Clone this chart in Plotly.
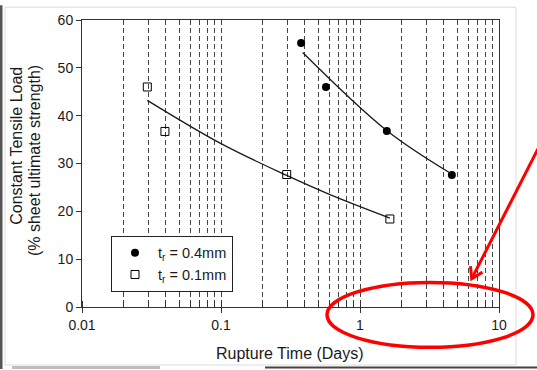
import plotly.graph_objects as go

# ---------------- data ----------------
thick_days = [0.377, 0.569, 1.56, 4.58]
thick_load = [55.2, 46.0, 36.8, 27.6]
thin_days = [0.0295, 0.0395, 0.297, 1.64]
thin_load = [46.0, 36.7, 27.7, 18.4]

thick_fit_days = [0.387, 1.556, 4.57]
thick_fit_load = [53.2, 36.9, 27.8]
thin_fit_days = [0.0295, 0.0993, 0.297, 0.608, 1.64]
thin_fit_load = [43.2, 34.2, 27.5, 23.5, 18.6]

x_tickvals = [0.01, 0.1, 1, 10]
x_ticktext = ["0.01", "0.1", "1", "10"]
y_tickvals = [0, 10, 20, 30, 40, 50, 60]

x_title = "Rupture Time (Days)"
y_title_lines = ["Constant Tensile Load", "(% sheet ultimate strength)"]
legend_names = ["t<sub>r</sub> = 0.4mm", "t<sub>r</sub> = 0.1mm"]

# ---------------- layout helpers ----------------
W, H = 537, 370
L, R, T, B = 82, 499, 15, 307


def px(x):
    return (x - L) / (R - L)


def py(y):
    return (B - y) / (B - T)


FONT = "Liberation Sans, Arial, sans-serif"
INK = "#1a1a1a"

fig = go.Figure()

fig.add_trace(go.Scatter(x=thick_fit_days, y=thick_fit_load, mode="lines",
                         line=dict(color=INK, width=1.3, shape="spline", smoothing=1.0),
                         showlegend=False, hoverinfo="skip"))
fig.add_trace(go.Scatter(x=thin_fit_days, y=thin_fit_load, mode="lines",
                         line=dict(color=INK, width=1.3, shape="spline", smoothing=1.0),
                         showlegend=False, hoverinfo="skip"))
fig.add_trace(go.Scatter(x=thick_days, y=thick_load, mode="markers",
                         name=legend_names[0],
                         marker=dict(symbol="circle", size=8, color="black")))
fig.add_trace(go.Scatter(x=thin_days, y=thin_load, mode="markers",
                         name=legend_names[1],
                         marker=dict(symbol="square-open", size=8, color="black",
                                     line=dict(width=1, color="black"))))

grid_col = "#444444"

fig.update_xaxes(
    type="log", range=[-2, 1],
    tickvals=x_tickvals, ticktext=x_ticktext,
    showline=True, linecolor="#333", linewidth=1, mirror=True,
    ticks="outside", ticklen=5, tickcolor="#333",
    showgrid=True, gridcolor=grid_col, gridwidth=1, griddash="5px,3px",
    minor=dict(dtick="D1", showgrid=True, gridcolor=grid_col, gridwidth=1,
               griddash="5px,3px", ticks="inside", ticklen=6, tickcolor="#333"),
    zeroline=False,
    tickfont=dict(family=FONT, size=14, color=INK),
)
fig.update_yaxes(
    range=[0, 60], tickvals=y_tickvals,
    showline=True, linecolor="#333", linewidth=1, mirror=True,
    ticks="outside", ticklen=5, tickcolor="#333",
    showgrid=False, zeroline=False,
    tickfont=dict(family=FONT, size=14, color=INK),
)

annotations = [
    dict(text=x_title, xref="paper", yref="paper", x=px(290), y=py(354),
         xanchor="center", yanchor="middle", showarrow=False,
         font=dict(family=FONT, size=16, color=INK)),
    dict(text=y_title_lines[0], xref="paper", yref="paper", x=px(17), y=py(143),
         xanchor="center", yanchor="middle", showarrow=False, textangle=-90,
         font=dict(family=FONT, size=16, color=INK)),
    dict(text=y_title_lines[1], xref="paper", yref="paper", x=px(34), y=py(158.5),
         xanchor="center", yanchor="middle", showarrow=False, textangle=-90,
         font=dict(family=FONT, size=16, color=INK)),
]

shapes = []
# screenshot frame decorations
shapes.append(dict(type="rect", xref="paper", yref="paper",
                   x0=px(5), x1=px(516), y0=py(2), y1=py(366),
                   line=dict(color="#dcdcdc", width=1), layer="below"))
shapes.append(dict(type="line", xref="paper", yref="paper",
                   x0=px(1), x1=px(1), y0=py(0), y1=py(370),
                   line=dict(color="#555555", width=3)))
shapes.append(dict(type="line", xref="paper", yref="paper",
                   x0=px(265), x1=px(537), y0=py(368.5), y1=py(368.5),
                   line=dict(color="#444444", width=2)))
shapes.append(dict(type="rect", xref="paper", yref="paper",
                   x0=px(12), x1=px(160), y0=py(367), y1=py(370),
                   line=dict(width=0), fillcolor="#bdbdbd"))
# red ellipse
shapes.append(dict(type="circle", xref="paper", yref="paper",
                   x0=px(327), x1=px(533), y0=py(348), y1=py(282),
                   line=dict(color="#ff0000", width=3.5)))
# red arrow shaft + open head
tip = (471.7, 278.3)
shapes.append(dict(type="line", xref="paper", yref="paper",
                   x0=px(538), y0=py(146), x1=px(tip[0]), y1=py(tip[1]),
                   line=dict(color="#ff0000", width=3)))
shapes.append(dict(type="path", xref="paper", yref="paper",
                   path=f"M {px(470.5)} {py(265.5)} L {px(tip[0])} {py(tip[1])} L {px(482.5)} {py(271.5)}",
                   line=dict(color="#ff0000", width=3)))

fig.update_layout(
    width=W, height=H,
    margin=dict(l=L, r=W - R, t=T, b=H - B),
    paper_bgcolor="white", plot_bgcolor="white",
    font=dict(family=FONT, size=14, color=INK),
    showlegend=True,
    legend=dict(x=px(111), y=py(234.5), xanchor="left", yanchor="top",
                bgcolor="white", bordercolor="#222", borderwidth=1,
                font=dict(family=FONT, size=14.5, color=INK),
                itemwidth=36, tracegroupgap=0),
    shapes=shapes,
    annotations=annotations,
)

fig.write_html("out.html")
